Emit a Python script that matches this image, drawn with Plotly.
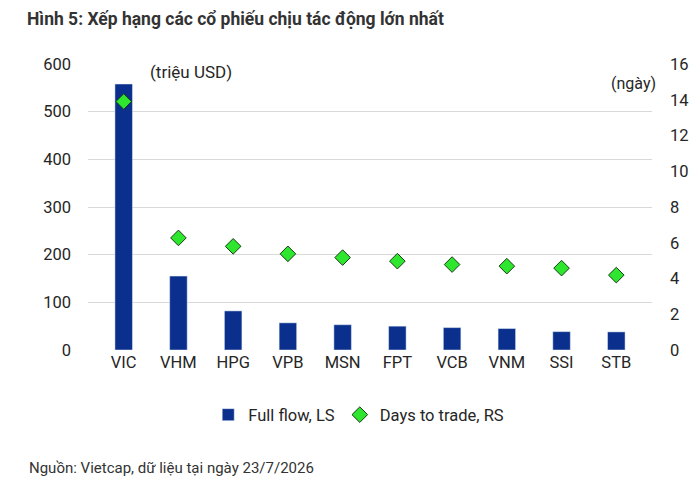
import plotly.graph_objects as go

# data
tickers = ['VIC', 'VHM', 'HPG', 'VPB', 'MSN', 'FPT', 'VCB', 'VNM', 'SSI', 'STB']
full_flow = [558, 155, 82, 57, 53, 50, 47, 45, 38.5, 38]          # triệu USD, left axis
days_to_trade = [13.9, 6.27, 5.8, 5.38, 5.17, 4.97, 4.78, 4.69, 4.58, 4.19]  # ngày, right axis

left_ticks = [0, 100, 200, 300, 400, 500, 600]
right_ticks = [0, 2, 4, 6, 8, 10, 12, 14, 16]

FONT = 'Roboto'
TEXT = '#262626'

# page has an 8px body margin, so the figure is a bit smaller than the window
W, H = 684, 482

fig = go.Figure()

# Add traces
fig.add_trace(go.Bar(x=tickers, y=full_flow, name='Full flow, LS',
                     marker_color='#0A2F8C', width=0.32))
fig.add_trace(go.Scatter(x=tickers, y=days_to_trade, name='Days to trade, RS',
                         mode='markers', yaxis='y2',
                         marker=dict(symbol='diamond', size=12, color='#2EE62E',
                                     line=dict(color='#1A3A1A', width=1))))

fig.update_layout(
    width=W, height=H,
    margin=dict(l=80, r=40, t=56, b=140),
    paper_bgcolor='white', plot_bgcolor='white',
    font=dict(family=FONT, size=16.5, color=TEXT),
    title=dict(text='<b>Hình 5: Xếp hạng các cổ phiếu chịu tác động lớn nhất</b>',
               x=19 / W, xanchor='left', y=1 - 11 / H, yanchor='middle',
               font=dict(family=FONT, size=17.5, color='#333333')),
    xaxis=dict(showgrid=False, showline=False, ticks='', tickfont=dict(size=16.5)),
    yaxis=dict(range=[0, 600], tickvals=left_ticks, showgrid=True,
               gridcolor='#D9D9D9', gridwidth=1, zeroline=False, ticks='',
               showline=False, ticklabelstandoff=16, automargin=False),
    yaxis2=dict(range=[0, 16], tickvals=right_ticks, overlaying='y', side='right',
                showgrid=False, zeroline=False, ticks='', showline=False,
                ticklabelstandoff=17, automargin=False),
    legend=dict(orientation='h', x=0.48, xanchor='center', y=-0.227, yanchor='middle',
                font=dict(size=16.5), itemwidth=30, traceorder='normal'),
    showlegend=True,
    bargap=0.68,
)

fig.add_annotation(text='(triệu USD)', xref='paper', yref='paper', x=60 / 564, y=(350 - 72) / 286,
                   showarrow=False, xanchor='left', yanchor='middle', font=dict(size=17))
fig.add_annotation(text='(ngày)', xref='paper', yref='paper', x=1.01, y=(350 - 83) / 286,
                   showarrow=False, xanchor='right', yanchor='middle', font=dict(size=16))
fig.add_annotation(text='Nguồn: Vietcap, dữ liệu tại ngày 23/7/2026', xref='paper', yref='paper',
                   x=-61 / 564, y=(350 - 468) / 286, showarrow=False, xanchor='left',
                   yanchor='middle', font=dict(size=15, color='#333333'))

fig.write_html("out.html")
